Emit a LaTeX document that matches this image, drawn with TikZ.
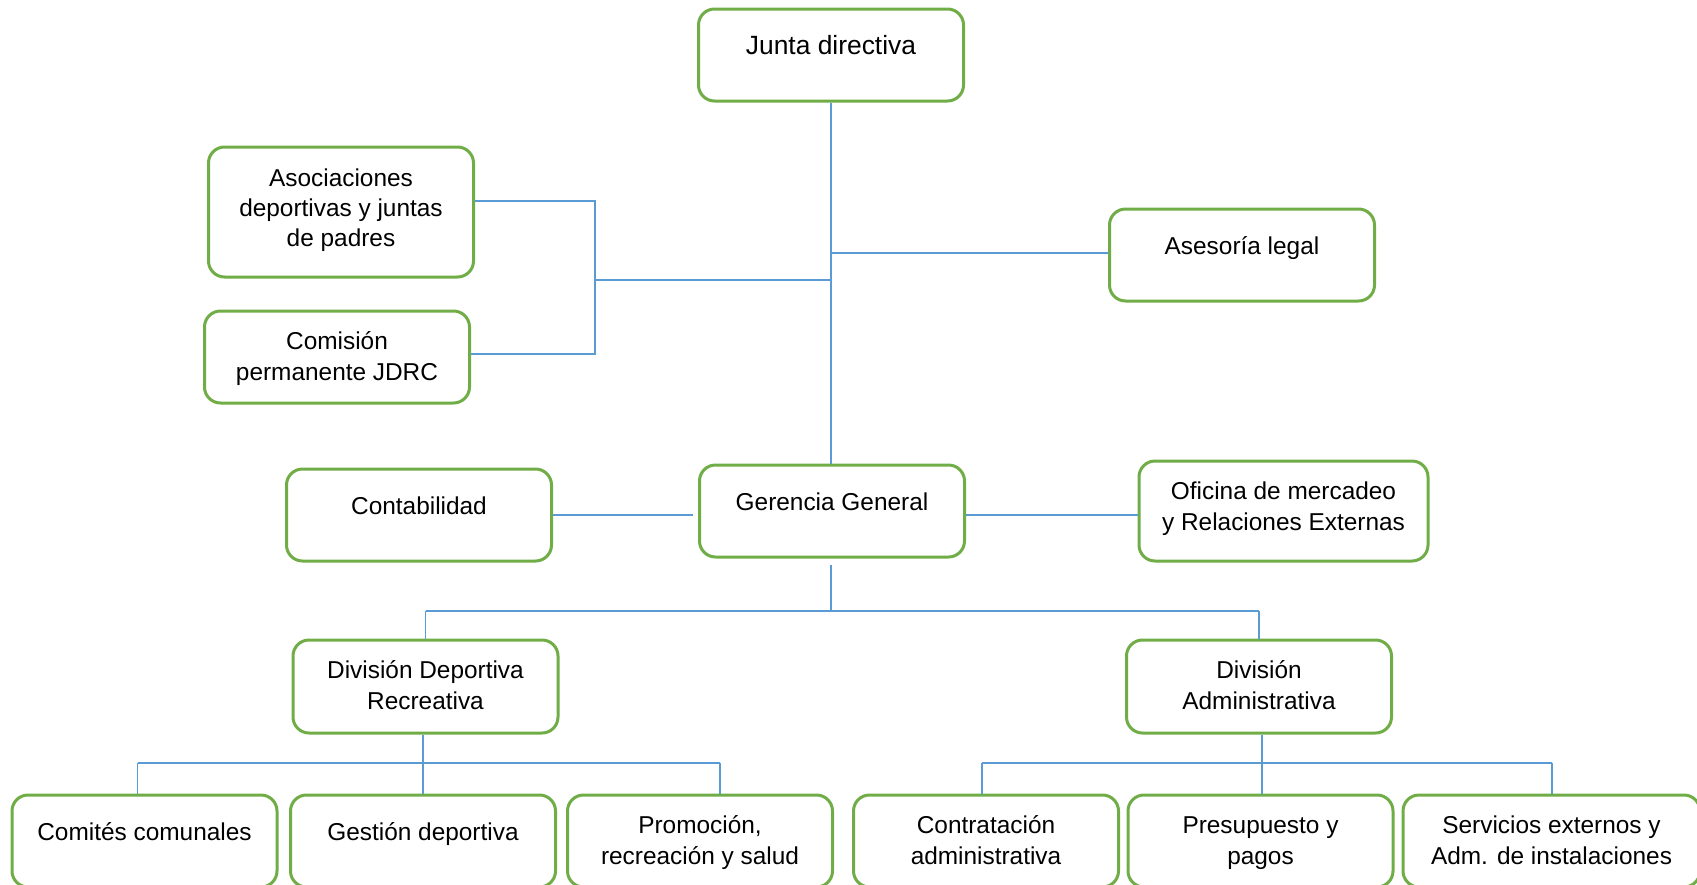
\documentclass[tikz,border=0pt]{standalone}
\usepackage{fontspec}
\setmainfont{Liberation Sans}
\usetikzlibrary{calc}
\definecolor{boxgreen}{RGB}{112,173,71}
\definecolor{lineblue}{RGB}{91,155,213}
\tikzset{
 box/.style={draw=boxgreen, line width=1.5pt, rounded corners=8pt, fill=white, minimum width=132.5pt, minimum height=46pt, inner sep=0pt},
 lbl/.style={anchor=north, inner sep=0pt, align=center, font=\fontsize{12.2}{15.2}\selectfont},
 conn/.style={draw=lineblue, line width=0.75pt},
}
\begin{document}
\begin{tikzpicture}[x=0.5pt,y=-0.5pt]
\useasboundingbox (0,0) rectangle (1697,884);
\clip (0,0) rectangle (1697,884);
\coordinate (bA) at (595,201);
\coordinate (bC) at (595,354);
\coordinate (bM) at (595,280);
\coordinate (h1) at (831,611);
\coordinate (h2) at (423,763);
\coordinate (d1) at (137.5,763);
\coordinate (d3) at (720,763);
\coordinate (h3) at (1262,763);
\coordinate (e1) at (982,763);
\coordinate (e3) at (1552,763);

% boxes
\node[box] (jd) at (831,55) {};
\node[lbl, font=\fontsize{13.2}{15.2}\selectfont] (jdt) at ($(jd.north)+(0,25)$) {\strut Junta directiva};
\node[box, minimum height=65pt] (aso) at (341,212) {};
\node[lbl] (asot) at ($(aso.north)+(0,19)$) {\strut Asociaciones\\deportivas y juntas\\de padres};
\node[box] (com) at (337,357) {};
\node[lbl] (comt) at ($(com.north)+(0,18.5)$) {\strut Comisión\\permanente JDRC};
\node[box] (ase) at (1242,255) {};
\node[lbl] (aset) at ($(ase.north)+(0,25.5)$) {\strut Asesoría legal};
\node[box] (con) at (419,515) {};
\node[lbl] (cont) at ($(con.north)+(0,25.5)$) {\strut Contabilidad};
\node[box] (ger) at (832,511) {};
\node[lbl] (gert) at ($(ger.north)+(0,25.5)$) {\strut Gerencia General};
\node[box, minimum width=144.5pt, minimum height=50pt] (ofi) at (1283.5,511) {};
\node[lbl] (ofit) at ($(ofi.north)+(0,18.5)$) {\strut Oficina de mercadeo\\y Relaciones Externas};
\node[box, minimum height=46.5pt] (dd) at (425.5,686.5) {};
\node[lbl] (ddt) at ($(dd.north)+(0,18.5)$) {\strut División Deportiva\\Recreativa};
\node[box, minimum height=46.5pt] (da) at (1259,686.5) {};
\node[lbl] (dat) at ($(da.north)+(0,18.5)$) {\strut División\\Administrativa};

\node[box] (cc) at (144.5,841) {};
\node[lbl] (cct) at ($(cc.north)+(0,25.5)$) {\strut Comités comunales};
\node[box] (gd) at (423,841) {};
\node[lbl] (gdt) at ($(gd.north)+(0,25.5)$) {\strut Gestión deportiva};
\node[box] (pr) at (700,841) {};
\node[lbl] (prt) at ($(pr.north)+(0,18.5)$) {\strut Promoción,\\recreación y salud};
\node[box] (ca) at (986,841) {};
\node[lbl] (cat) at ($(ca.north)+(0,18.5)$) {\strut Contratación\\administrativa};
\node[box] (pp) at (1260.5,841) {};
\node[lbl] (ppt) at ($(pp.north)+(0,18.5)$) {\strut Presupuesto y\\pagos};
\node[box, minimum width=148.5pt] (se) at (1551.5,841) {};
\node[lbl] (set) at ($(se.north)+(0,18.5)$) {\strut Servicios externos y\\Adm. de instalaciones};

% connectors
\draw[conn] (aso.east |- bA) -- (bA) -- (bC) -- (com.east |- bC);
\draw[conn] (bM) -- (bM -| jd.south);
\draw[conn] (jd.south) -- (jd.south |- ger.north);
\draw[conn] ([yshift=1pt]ase.west) -- ([yshift=1pt]ase.west -| jd.south);
\draw[conn] (con.east) -- ([xshift=-2.5pt]ger.west |- con.east);
\draw[conn] ([yshift=-2pt]ger.east) -- ([yshift=-2pt]ger.east -| ofi.west);
\draw[conn] ([yshift=-3pt]ger.south -| h1) -- (h1);
\draw[conn] (h1 -| dd.north) -- (h1 -| da.north);
\draw[conn] (h1 -| dd.north) -- (dd.north);
\draw[conn] (h1 -| da.north) -- (da.north);
\draw[conn] (dd.south -| h2) -- (h2);
\draw[conn] (d1) -- (d3);
\draw[conn] (d1) -- (d1 |- cc.north);
\draw[conn] (h2) -- (h2 |- gd.north);
\draw[conn] (d3) -- (d3 |- pr.north);
\draw[conn] (da.south -| h3) -- (h3);
\draw[conn] (e1) -- (e3);
\draw[conn] (e1) -- (e1 |- ca.north);
\draw[conn] (h3) -- (h3 |- pp.north);
\draw[conn] (e3) -- (e3 |- se.north);
\end{tikzpicture}
\end{document}
